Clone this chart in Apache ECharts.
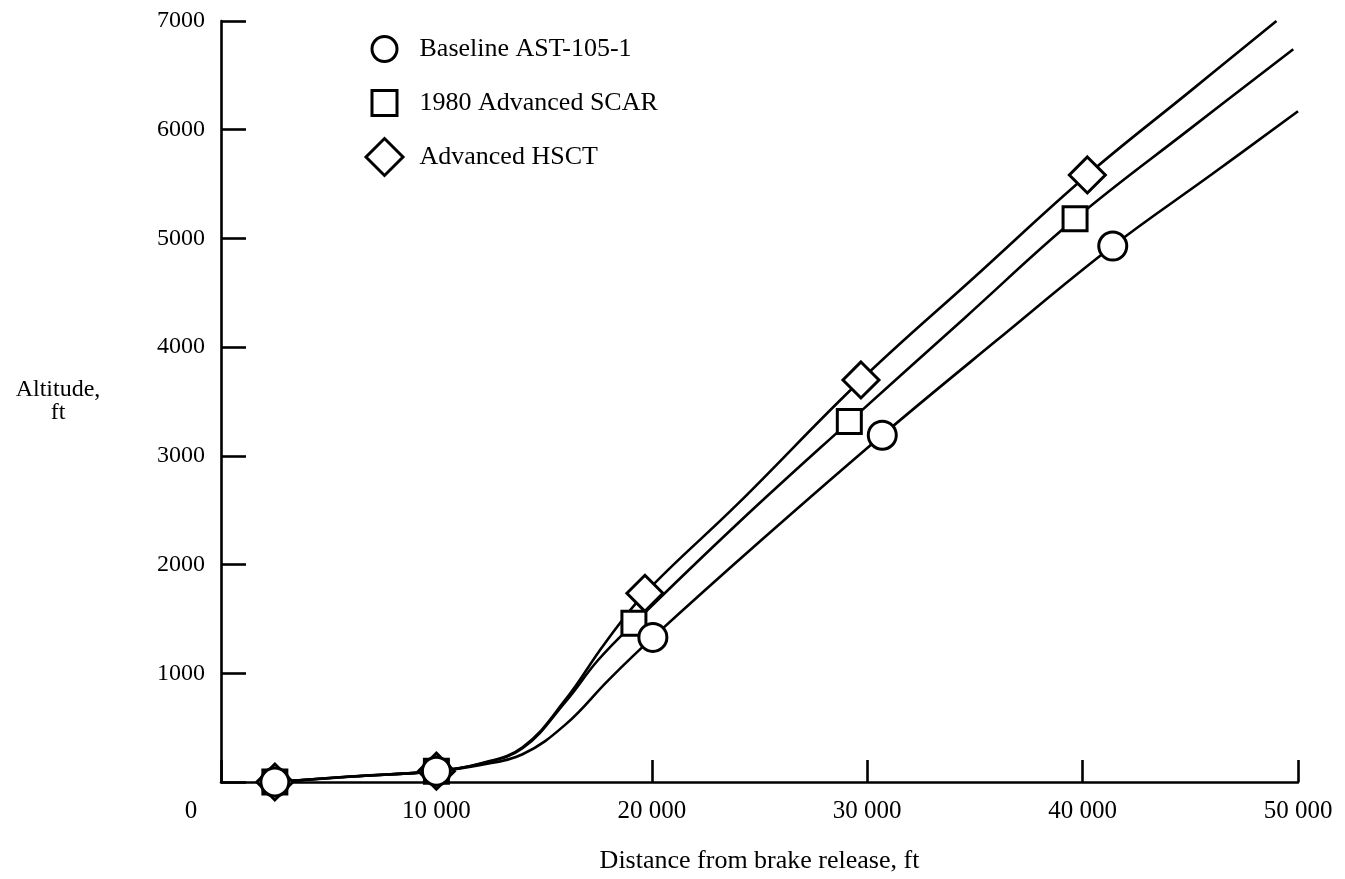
<!DOCTYPE html>
<html>
<head>
<meta charset="utf-8">
<script src="https://cdn.jsdelivr.net/npm/echarts@6/dist/echarts.min.js"></script>
<style>
html,body{margin:0;padding:0;background:#fff;}
#chart{width:1345px;height:879px;}
</style>
</head>
<body>
<div id="chart"></div>
<script>
// ---- data ----
const seriesNames = ['Baseline AST-105-1', '1980 Advanced SCAR', 'Advanced HSCT'];
const xTickLabels = ['0', '10 000', '20 000', '30 000', '40 000', '50 000'];
const yTickLabels = ['', '1000', '2000', '3000', '4000', '5000', '6000', '7000'];

const baselineMarkers = [[2500, 0], [10000, 100], [20050, 1330], [30700, 3190], [41400, 4930]];
const scarMarkers = [[2500, 0], [10000, 100], [19170, 1460], [29170, 3315], [39650, 5180]];
const hsctMarkers = [[2500, 0], [10000, 100], [19680, 1736], [29710, 3698], [40220, 5584]];

const baselineCurve = [[2500, 0], [6000, 48], [10000, 100], [12000, 155], [14000, 255], [16000, 530], [18000, 940], [20050, 1330], [25000, 2210], [30700, 3190], [36000, 4060], [41400, 4930], [46000, 5590], [50000, 6170]];
const scarCurve = [[2500, 0], [6000, 50], [10000, 100], [12000, 165], [14000, 310], [16000, 740], [17500, 1120], [19170, 1460], [24000, 2380], [29170, 3315], [34500, 4264], [39650, 5180], [45000, 6010], [49780, 6740]];
const hsctCurve = [[2500, 0], [6000, 50], [10000, 100], [12000, 168], [14000, 320], [16000, 760], [17800, 1270], [19680, 1736], [24000, 2560], [29710, 3698], [35000, 4648], [40220, 5584], [45000, 6355], [49000, 7000]];

// ---- chart ----
const FONT = "'Liberation Serif', 'Times New Roman', serif";
const FS = 25;
const chart = echarts.init(document.getElementById('chart'), null, {renderer: 'canvas'});

const markerStyle = {color: '#fff', borderColor: '#000', borderWidth: 3, opacity: 1};
function curve(name, data) {
  return {
    name: name + ' curve', type: 'line', data: data, showSymbol: false, symbol: 'none',
    smooth: 0.4,
    lineStyle: {color: '#000', width: 2.6}, z: 2, silent: true, clip: true
  };
}
function markers(name, data, symbol, size, z) {
  return {
    name: name, type: 'scatter', data: data, symbol: symbol, symbolSize: size,
    itemStyle: markerStyle, z: z, silent: true
  };
}
function legendFor(name, top, size) {
  return {
    data: [name], left: 378 - size / 2, top: top, orient: 'vertical', selectedMode: false,
    itemWidth: size, itemHeight: size,
    itemStyle: {color: '#fff', borderColor: '#000', borderWidth: 3},
    textStyle: {fontFamily: FONT, fontSize: 26, color: '#000', padding: [0, 0, 0, 413 - (378 + size / 2 + 5)]}
  };
}

chart.setOption({
  animation: false,
  backgroundColor: '#fff',
  grid: {left: 221, right: 47, top: 21, bottom: 97, containLabel: false},
  legend: [
    legendFor(seriesNames[0], 30, 25),
    legendFor(seriesNames[1], 84, 25),
    legendFor(seriesNames[2], 132, 37)
  ],
  xAxis: {
    type: 'value', min: 0, max: 50000, interval: 10000,
    axisLine: {show: true, onZero: false, lineStyle: {color: '#000', width: 2.6}},
    axisTick: {show: true, inside: true, length: 22, lineStyle: {color: '#000', width: 2.6}},
    splitLine: {show: false},
    axisLabel: {
      margin: 17, color: '#000', fontFamily: FONT, fontSize: FS,
      formatter: function (v) {
        const s = xTickLabels[Math.round(v / 10000)];
        return v === 0 ? '{z|' + s + '}' : s;
      },
      rich: {z: {fontFamily: FONT, fontSize: FS, color: '#000', padding: [0, 60, 0, 0]}}
    },
    name: 'Distance from brake release, ft', nameLocation: 'middle', nameGap: 66,
    nameTextStyle: {fontFamily: FONT, fontSize: 26, color: '#000'}
  },
  yAxis: {
    type: 'value', min: 0, max: 7000, interval: 1000,
    axisLine: {show: true, onZero: false, lineStyle: {color: '#000', width: 2.6}},
    axisTick: {show: true, inside: true, length: 25, lineStyle: {color: '#000', width: 2.6}},
    splitLine: {show: false},
    axisLabel: {
      margin: 16, color: '#000', fontFamily: FONT, fontSize: 24,
      formatter: function (v) { return yTickLabels[Math.round(v / 1000)]; }
    },
    name: 'Altitude,\nft', nameLocation: 'middle', nameGap: 163, nameRotate: 0,
    nameTextStyle: {fontFamily: FONT, fontSize: 24, color: '#000', align: 'center', verticalAlign: 'middle', lineHeight: 23, padding: [8, 0, 0, 0]}
  },
  series: [
    curve(seriesNames[0], baselineCurve),
    curve(seriesNames[1], scarCurve),
    curve(seriesNames[2], hsctCurve),
    markers(seriesNames[2], hsctMarkers, 'diamond', 36, 3),
    markers(seriesNames[1], scarMarkers, 'rect', 24, 4),
    markers(seriesNames[0], baselineMarkers, 'circle', 28, 5)
  ]
});
</script>
</body>
</html>
